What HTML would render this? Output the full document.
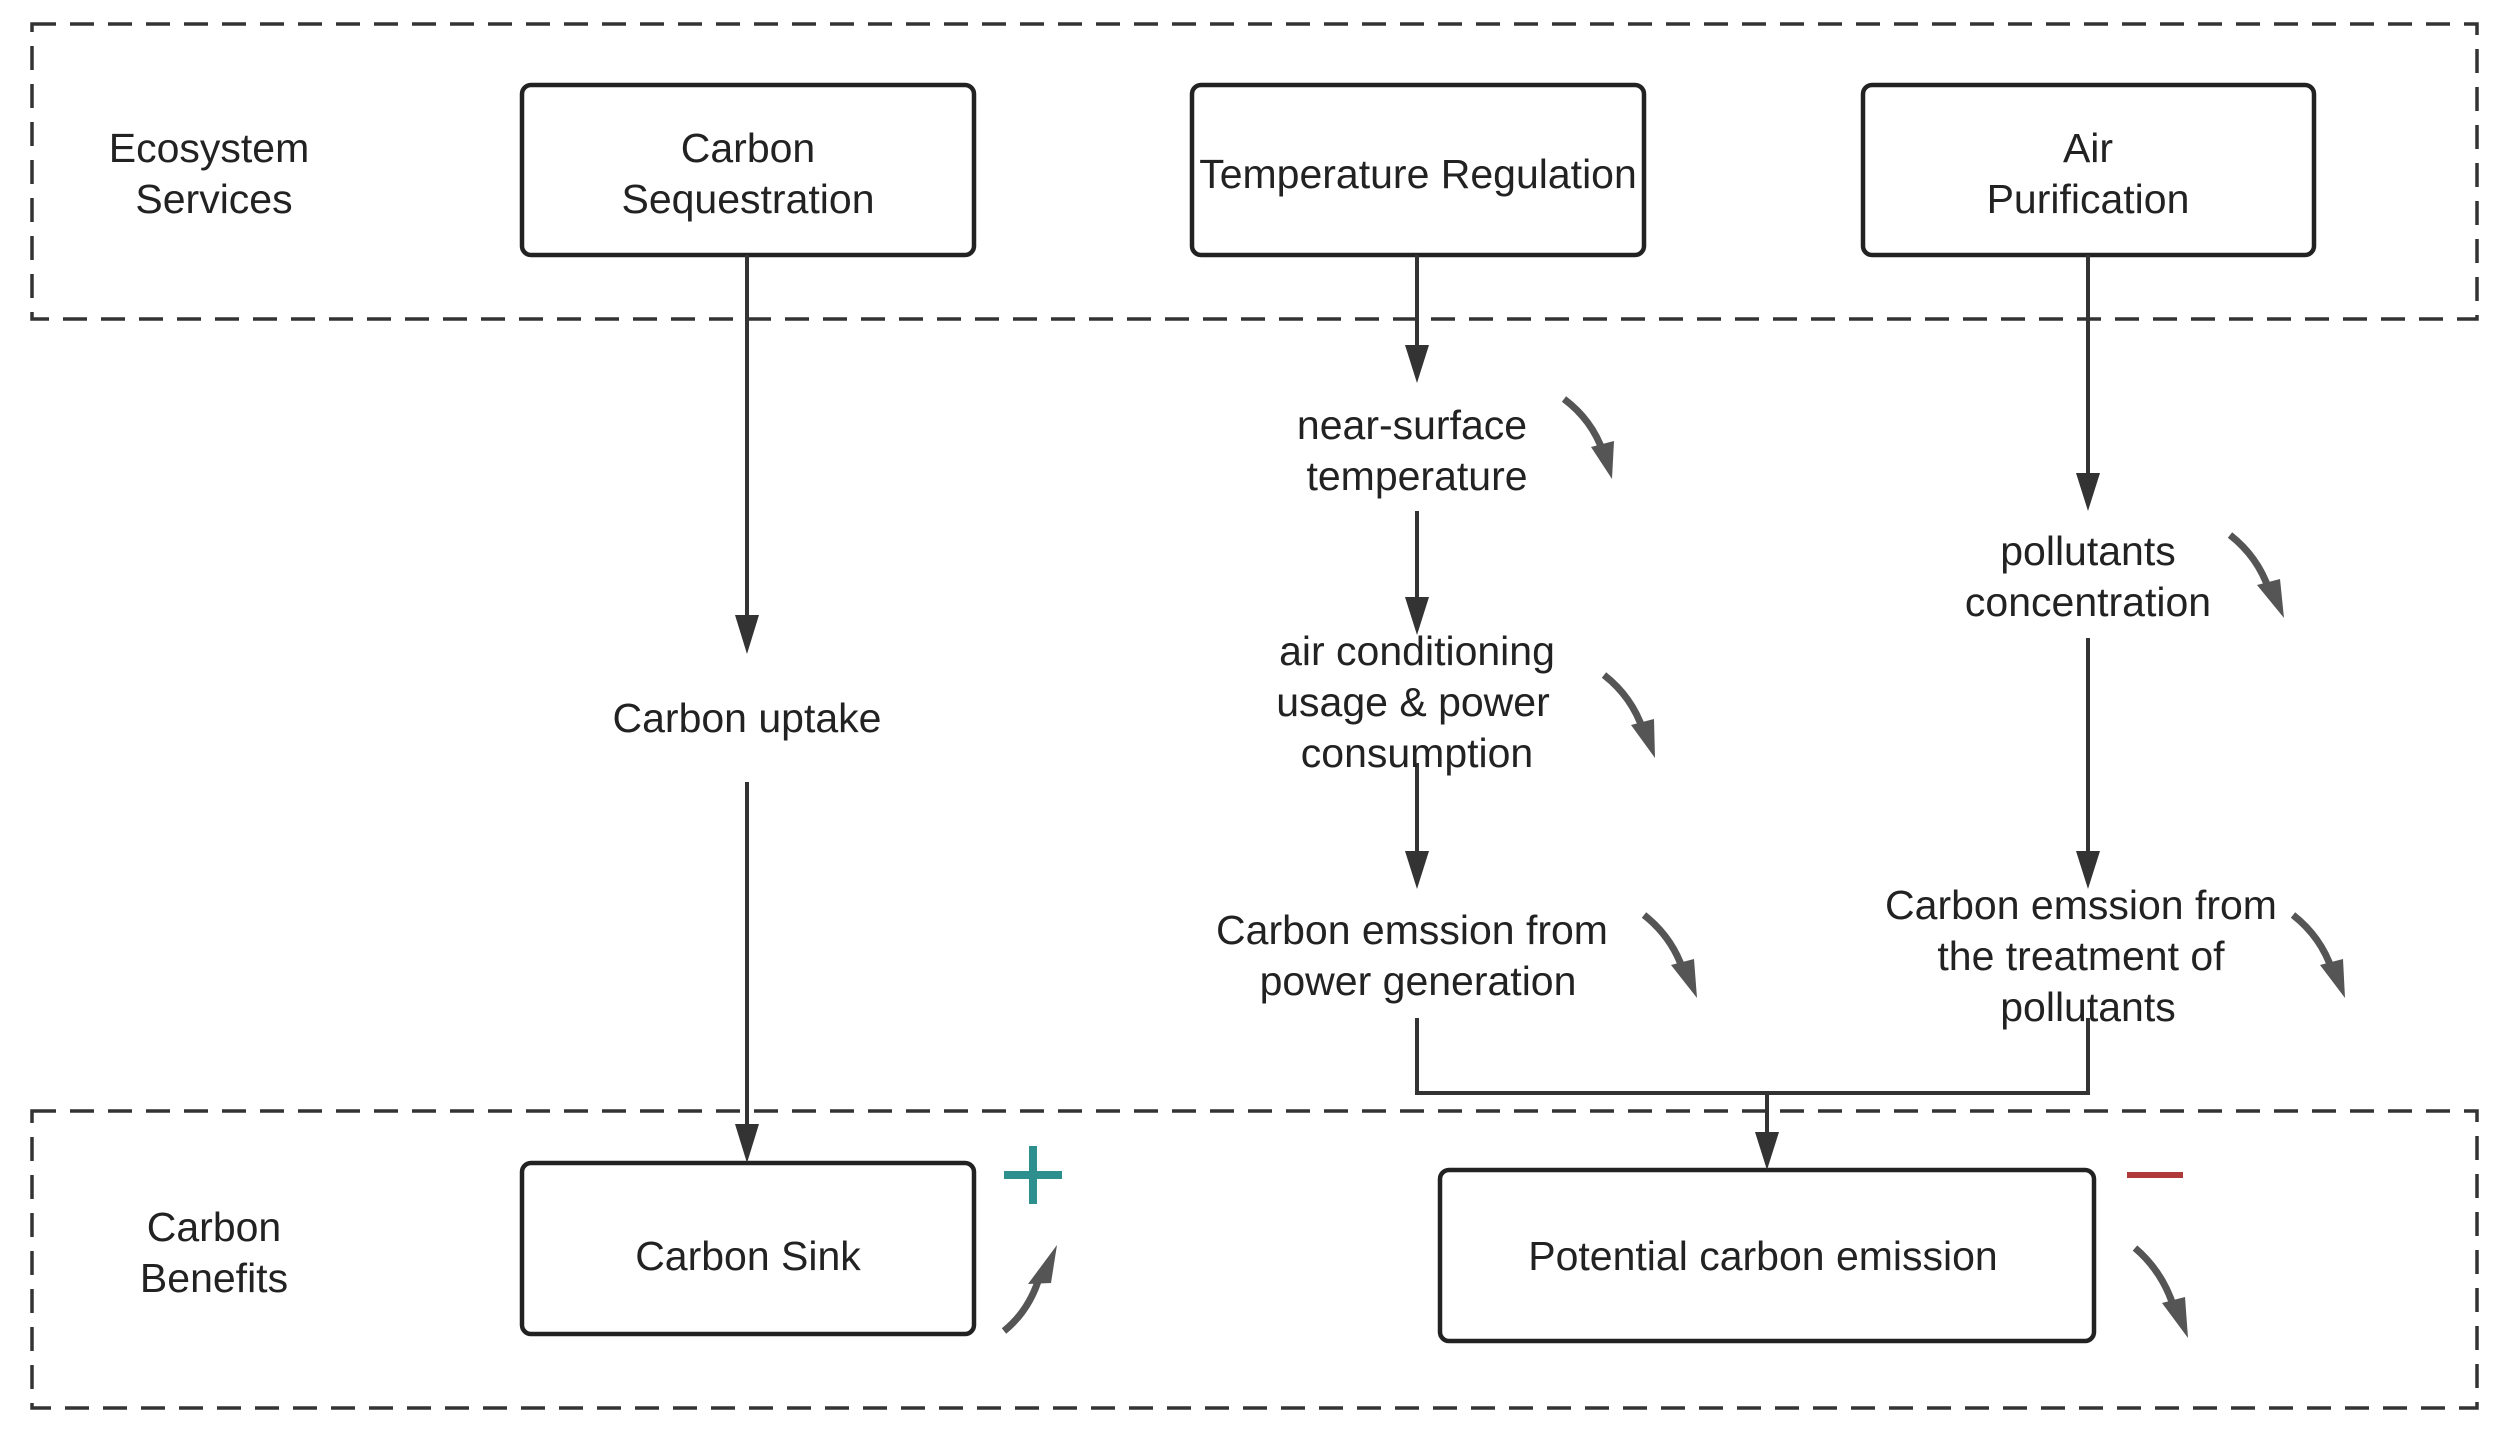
<!DOCTYPE html>
<html><head><meta charset="utf-8"><style>
html,body{margin:0;padding:0;background:#fff}
svg{display:block}
text{font-family:"Liberation Sans",Arial,sans-serif;font-size:41px;fill:#222;text-anchor:middle}
</style></head><body>
<svg width="2503" height="1435" viewBox="0 0 2503 1435" xmlns="http://www.w3.org/2000/svg">
<g fill="none" stroke="#333" stroke-width="3.5" stroke-dasharray="24 14">
<rect x="32" y="24" width="2445" height="295"/>
<rect x="32" y="1111" width="2445" height="297"/>
</g>
<g fill="#fff" stroke="#222" stroke-width="4.5">
<rect x="522" y="85" width="452" height="170" rx="9"/>
<rect x="1192" y="85" width="452" height="170" rx="9"/>
<rect x="1863" y="85" width="451" height="170" rx="9"/>
<rect x="522" y="1163" width="452" height="171" rx="9"/>
<rect x="1440" y="1170" width="654" height="171" rx="9"/>
</g>
<g stroke="#333" stroke-width="4" fill="none">
<line x1="747" y1="255" x2="747" y2="625"/>
<line x1="747" y1="782" x2="747" y2="1133"/>
<line x1="1417" y1="255" x2="1417" y2="355"/>
<line x1="1417" y1="511" x2="1417" y2="605"/>
<line x1="1417" y1="763" x2="1417" y2="860"/>
<line x1="2088" y1="255" x2="2088" y2="483"/>
<line x1="2088" y1="638" x2="2088" y2="860"/>
<polyline points="1417,1018 1417,1093 2088,1093 2088,1018"/>
<line x1="1767" y1="1093" x2="1767" y2="1140"/>
</g>
<g fill="#333">
<polygon points="735,615 759,615 747,654"/>
<polygon points="735,1124 759,1124 747,1163"/>
<polygon points="1405,345 1429,345 1417,383"/>
<polygon points="1405,597 1429,597 1417,635"/>
<polygon points="1405,851 1429,851 1417,889"/>
<polygon points="2076,473 2100,473 2088,511"/>
<polygon points="2076,851 2100,851 2088,889"/>
<polygon points="1755,1132 1779,1132 1767,1170"/>
</g>
<text x="209" y="162">Ecosystem</text>
<text x="214" y="213">Services</text>
<text x="748" y="162">Carbon</text>
<text x="748" y="213">Sequestration</text>
<text x="1418" y="188">Temperature Regulation</text>
<text x="2088" y="162">Air</text>
<text x="2088" y="213">Purification</text>
<text x="747" y="732">Carbon uptake</text>
<text x="1412" y="439">near-surface</text>
<text x="1417" y="490">temperature</text>
<text x="1417" y="665">air conditioning</text>
<text x="1413" y="716">usage &amp; power</text>
<text x="1417" y="767">consumption</text>
<text x="1412" y="944">Carbon emssion from</text>
<text x="1418" y="995">power generation</text>
<text x="2088" y="565">pollutants</text>
<text x="2088" y="616">concentration</text>
<text x="2081" y="919">Carbon emssion from</text>
<text x="2081" y="970">the treatment of</text>
<text x="2088" y="1021">pollutants</text>
<text x="214" y="1241">Carbon</text>
<text x="214" y="1292">Benefits</text>
<text x="748" y="1270">Carbon Sink</text>
<text x="1763" y="1270">Potential carbon emission</text>
<g stroke="#2e8f8f" stroke-width="8"><line x1="1004" y1="1175" x2="1062" y2="1175"/><line x1="1033" y1="1146" x2="1033" y2="1204"/></g>
<line x1="2127" y1="1175" x2="2183" y2="1175" stroke="#b03a3a" stroke-width="6"/>
<g fill="#555" stroke="#555">
<g stroke-width="7" fill="none">
<path d="M1564,399 Q1592,420 1603,452"/>
<path d="M1604,675 Q1632,697 1643,730"/>
<path d="M1644,915 Q1672,937 1683,970"/>
<path d="M2230,535 Q2258,557 2269,590"/>
<path d="M2293,915 Q2321,937 2332,970"/>
<path d="M2135,1248 Q2163,1272 2174,1308"/>
<path d="M1004,1331 Q1030,1310 1040,1275"/>
</g>
<g stroke="none">
<polygon points="1591,447 1614,441 1612,479"/>
<polygon points="1631,725 1654,719 1655,758"/>
<polygon points="1671,965 1694,959 1697,998"/>
<polygon points="2257,585 2280,579 2284,618"/>
<polygon points="2320,965 2343,959 2345,998"/>
<polygon points="2162,1303 2185,1297 2188,1338"/>
<polygon points="1028,1284 1051,1283 1057,1245"/>
</g>
</g>
</svg>
</body></html>
